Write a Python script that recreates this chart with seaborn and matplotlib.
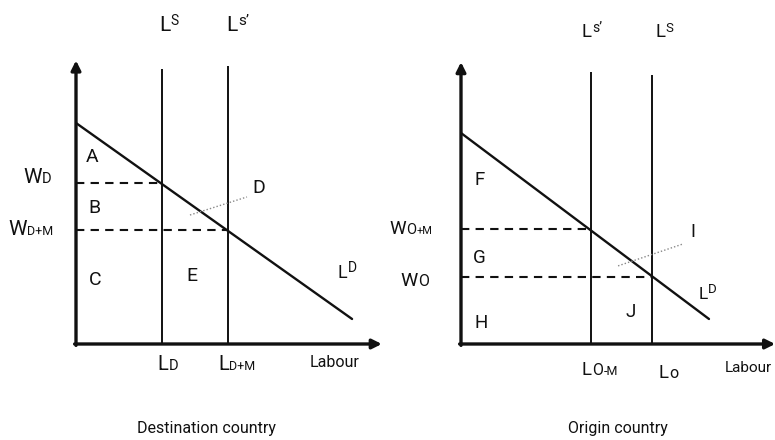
import matplotlib
matplotlib.use("Agg")
import matplotlib.pyplot as plt
import seaborn as sns
from matplotlib.transforms import IdentityTransform

# Destination country (left panel)
dest_supply = [3.1, 5.47]          # L_D, L_D+M
dest_supply_top = [9.89, 10.0]
dest_wages = [5.8, 4.1]            # W_D, W_D+M
dest_demand_x = [0, 9.93]
dest_demand_y = [7.95, 0.9]
dest_gain_x = [4.1, 6.15]
dest_gain_y = [4.64, 5.29]

# Origin country (right panel)
orig_supply = [4.68, 6.87]         # L_O-M, L_O
orig_supply_top = [9.78, 9.68]
orig_wages = [4.14, 2.41]          # W_O+M, W_O
orig_demand_x = [0, 8.92]
orig_demand_y = [7.59, 0.9]
orig_gain_x = [5.65, 7.99]
orig_gain_y = [2.81, 3.6]

INK = "#111111"
U = 27.8  # pixels per data unit

sns.set_theme(style="white")
plt.rcParams["font.family"] = ["Roboto", "DejaVu Sans"]

fig = plt.figure(figsize=(7.75, 4.4), dpi=100)
ax1 = fig.add_axes([76 / 775, 96 / 440, 11.0 * U / 775, 10.2 * U / 440])
ax2 = fig.add_axes([461 / 775, 96 / 440, 11.3 * U / 775, 10.14 * U / 440])
ax1.set_xlim(0, 11.0)
ax1.set_ylim(0, 10.2)
ax2.set_xlim(0, 11.3)
ax2.set_ylim(0, 10.14)


def draw_panel(ax, supply, supply_top, wages, dx, dy, gx, gy):
    ax.axis("off")
    xmax = ax.get_xlim()[1]
    ymax = ax.get_ylim()[1]
    arrow = dict(arrowstyle="-|>", color=INK, lw=2.4, mutation_scale=14,
                 shrinkA=0, shrinkB=0)
    ax.annotate("", xy=(xmax, 0), xytext=(-0.05, 0), arrowprops=arrow)
    ax.annotate("", xy=(0, ymax), xytext=(0, -0.05), arrowprops=arrow)
    ax.vlines(supply, 0, supply_top, color=INK, lw=1.4)
    # dashed wage levels run across to the matching supply line
    ax.hlines(wages, 0, supply, color=INK, lw=1.5, linestyle=(0, (4, 3)))
    sns.lineplot(x=dx, y=dy, ax=ax, color=INK, lw=1.7)
    sns.lineplot(x=gx, y=gy, ax=ax, color="#888888", lw=1.0,
                 linestyle=(0, (1, 1.5)))


draw_panel(ax1, dest_supply, dest_supply_top, dest_wages,
           dest_demand_x, dest_demand_y, dest_gain_x, dest_gain_y)
draw_panel(ax2, orig_supply, orig_supply_top, orig_wages,
           orig_demand_x, orig_demand_y, orig_gain_x, orig_gain_y)

renderer = fig.canvas.get_renderer()


def label(ax, x, y, pieces):
    xd, yd = ax.transData.transform((x, y))
    for text, size, rise in pieces:
        t = fig.text(xd, yd + rise, text, fontsize=size, color=INK,
                     transform=IdentityTransform(), ha="left", va="baseline")
        xd = t.get_window_extent(renderer).x1 + 0.5


# left panel labels
label(ax1, 2.99, 11.26, [("L", 15, 0), ("S", 10, 6)])
label(ax1, 5.40, 11.26, [("L", 15, 0), ("s’", 11, 6)])
label(ax1, 0.36, 6.55, [("A", 14, 0)])
label(ax1, 0.43, 4.71, [("B", 14, 0)])
label(ax1, 0.47, 2.12, [("C", 14, 0)])
label(ax1, 3.96, 2.27, [("E", 14, 0)])
label(ax1, 6.33, 5.43, [("D", 14, 0)])
label(ax1, 9.42, 2.37, [("L", 13, 0), ("D", 10, 6)])
label(ax1, -1.91, 5.79, [("W", 15, 0), ("D", 10.5, 0)])
label(ax1, -2.45, 3.92, [("W", 15, 0), ("D+M", 9, 0)])
label(ax1, 2.91, -0.94, [("L", 14.5, 0), ("D", 10.5, 0)])
label(ax1, 5.11, -0.94, [("L", 14.5, 0), ("D+M", 9, 0)])
label(ax1, 8.42, -0.83, [("Labour", 11.5, 0)])
ax1.text(4.71, -3.2, "Destination country", fontsize=11.5, color=INK,
         ha="center", va="baseline", clip_on=False)

# right panel labels
label(ax2, 4.35, 11.04, [("L", 13.5, 0), ("s’", 10, 5)])
label(ax2, 6.98, 11.04, [("L", 13.5, 0), ("S", 9.5, 5)])
label(ax2, 0.47, 5.72, [("F", 13.5, 0)])
label(ax2, 0.43, 2.91, [("G", 13.5, 0)])
label(ax2, 0.47, 0.58, [("H", 13.5, 0)])
label(ax2, 5.90, 0.97, [("J", 13.5, 0)])
label(ax2, 8.24, 3.85, [("I", 13.5, 0)])
label(ax2, 8.53, 1.62, [("L", 12.5, 0), ("D", 9.5, 6)])
label(ax2, -2.59, 3.96, [("W", 13.5, 0), ("O", 10.5, 0), ("+M", 8, 0)])
label(ax2, -2.19, 2.09, [("W", 14, 0), ("O", 11.5, 0)])
label(ax2, 4.35, -1.12, [("L", 13.5, 0), ("O", 11.5, 0), ("-M", 9, 0)])
label(ax2, 7.12, -1.22, [("L", 13.5, 0), ("o", 11.5, 0)])
label(ax2, 9.50, -1.01, [("Labour", 11, 0)])
ax2.text(5.65, -3.2, "Origin country", fontsize=11.5, color=INK,
         ha="center", va="baseline", clip_on=False)

fig.savefig("out.png", dpi=100, facecolor="white")
